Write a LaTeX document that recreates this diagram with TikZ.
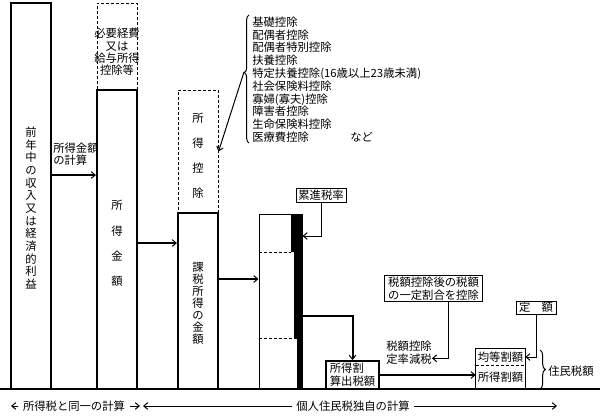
\documentclass[tikz,border=0pt]{standalone}
\usepackage{fontspec}
\setmainfont{Noto Sans CJK JP}
\usetikzlibrary{
    arrows.meta,
    positioning,
    fit,
    calc,
    decorations.pathreplacing
}

\begin{document}
\begin{tikzpicture}[
    x=0.75pt, y=-0.75pt,
    font=\fontsize{8.5pt}{9.6pt}\selectfont,
    col/.style={
        rectangle,
        draw=black,
        line width=1.5pt,
        inner sep=0pt
    },
    ghost/.style={col, line width=0.75pt, dash pattern=on 2.25pt off 1.5pt},
    vtext/.style={align=center, inner sep=0pt},
    tag/.style={
        rectangle,
        draw=black,
        line width=0.75pt,
        inner sep=0.5pt,
        align=left
    },
    brace/.style={line width=0.75pt, decorate},
    arr/.style={line width=0.75pt, -{Straight Barb[length=3pt,width=5pt]}},
    tarr/.style={line width=1.5pt, -{Straight Barb[length=3pt,width=5pt,line width=0.75pt]}}
]
\useasboundingbox (0,0) rectangle (600,415);

% Income columns
\node[col, fit={(11,3) (51,389)}] (income) {};
\node[vtext, font=\fontsize{8.5pt}{9.5pt}\selectfont] (incometext)
    at ([yshift=-9pt]income.center) {前\\年\\中\\の\\収\\入\\又\\は\\経\\済\\的\\利\\益};
\node[ghost, fit={(97,3) (137,90)}] (expense) {};
\node[vtext, font=\fontsize{8.5pt}{9.2pt}\selectfont] (expensetext)
    at ([yshift=-4pt]expense.center) {必要経費\\又は\\給与所得\\控除等};
\node[col, fit={(97,90) (137,389)}] (shotoku) {};
\node[vtext, font=\fontsize{8.5pt}{19pt}\selectfont] (shotokutext)
    at ([yshift=-3pt]shotoku.center) {所\\得\\金\\額};
\node[ghost, fit={(178,90) (218,213)}] (deduct) {};
\node[vtext, font=\fontsize{8.5pt}{18.75pt}\selectfont] (deducttext)
    at ([yshift=-3pt]deduct.center) {所\\得\\控\\除};
\node[col, fit={(178,213) (218,389)}] (kazei) {};
\node[vtext, font=\fontsize{8.5pt}{9pt}\selectfont] (kazeitext)
    at ([yshift=-2pt]kazei.center) {課\\税\\所\\得\\の\\金\\額};

\node[align=left, inner sep=0pt, anchor=south west] (calclabel) at (53,166) {所得金額\\の計算};

% Deduction list
\node[anchor=west, align=left, inner sep=0pt] (items) at (252,79.5) {
    基礎控除\\配偶者控除\\配偶者特別控除\\扶養控除\\特定扶養控除(16歳以上23歳未満)\\
    社会保険料控除\\寡婦(寡夫)控除\\障害者控除\\生命保険料控除\\医療費控除\hspace*{31pt}など
};
\draw[brace, decoration={brace, amplitude=3.5pt, aspect=0.55}] (249,143) -- (249,15);
\coordinate (listtip) at (244,72);

% Tax column with progressive rate
\node[rectangle, draw=black, line width=0.75pt, inner sep=0pt, fit={(259,214) (302,389)}] (taxcol) {};
\fill (291,214) -- (302,214) -- (302,389) -- (297,389) -- (297,338) -- (294,338) -- (294,252) -- (291,252) -- cycle;
\draw[line width=0.75pt, dash pattern=on 2.25pt off 1.5pt] (taxcol.west |- 0,252) -- (291,252);
\draw[line width=0.75pt, dash pattern=on 2.25pt off 1.5pt] (taxcol.west |- 0,338) -- (297,338);

\node[tag, minimum width=37.5pt, minimum height=10.5pt, align=center] (ruishin) at (321,195) {累進税率};
\node[tag, line width=1.5pt, minimum width=39.75pt, minimum height=21pt] (sanshutsu) at (352.5,375) {所得割\\算出税額};

% Tax credits
\node[tag, minimum width=74pt, minimum height=20pt] (gentei) at (433.5,288.5) {税額控除後の税額\\の一定割合を控除};
\node[align=left, inner sep=0pt] (teiritsu) at (409,353) {税額控除\\定率減税};
\node[tag, minimum width=30pt, minimum height=9.75pt, align=center] (teigaku) at (536,307.5) {定　額};

% Resident tax
\node[inner sep=0pt, minimum width=36.75pt, minimum height=12pt] (kinto) at (500.5,357) {均等割額};
\node[inner sep=0pt, minimum width=36.75pt, minimum height=18pt] (wari) at (500.5,377) {所得割額};
\node[rectangle, draw=black, line width=0.75pt, inner sep=0pt, fit=(kinto)(wari)] (jumin) {};
\draw[line width=0.75pt, dash pattern=on 2.25pt off 1.5pt] (kinto.south west) -- (kinto.south east);
\draw[brace, decoration={brace, amplitude=4pt}] (540,350) -- (540,389);
\node[anchor=west, inner sep=0pt] (jumingaku) at (548,371) {住民税額};

% Base line
\draw[line width=1.5pt] (0,389) -- (600,389);

% Arrows
\draw[tarr] (income.east |- 0,175) -- (shotoku.west |- 0,175);
\draw[tarr] (shotoku.east |- 0,243) -- (kazei.west |- 0,243);
\draw[tarr] (kazei.east |- 0,279) -- (taxcol.west |- 0,279);
\draw[arr] (listtip) -- (deduct.east);
\draw[arr] (ruishin.south) |- (taxcol.east |- 0,236);
\draw[tarr] (taxcol.east |- 0,316) -| (sanshutsu.north);
\draw[tarr] (sanshutsu.east) -- (wari.west |- sanshutsu.east);
\draw[arr] ([xshift=11pt]gentei.south) |- ([yshift=-4pt]teiritsu.east);
\draw[arr] (teigaku.south) |- (kinto.east);

% Bottom ranges
\node (samecalc) at (74,406) {所得税と同一の計算};
\coordinate (samel) at (11,406);
\coordinate (samer) at (140,406);
\draw[arr] (samecalc) -- (samel);
\draw[arr] (samecalc) -- (samer);
\node (owncalc) at (353,406) {個人住民税独自の計算};
\coordinate (ownl) at (143,406);
\coordinate (ownr) at (557,406);
\draw[arr] (owncalc) -- (ownl);
\draw[arr] (owncalc) -- (ownr);

\end{tikzpicture}
\end{document}
